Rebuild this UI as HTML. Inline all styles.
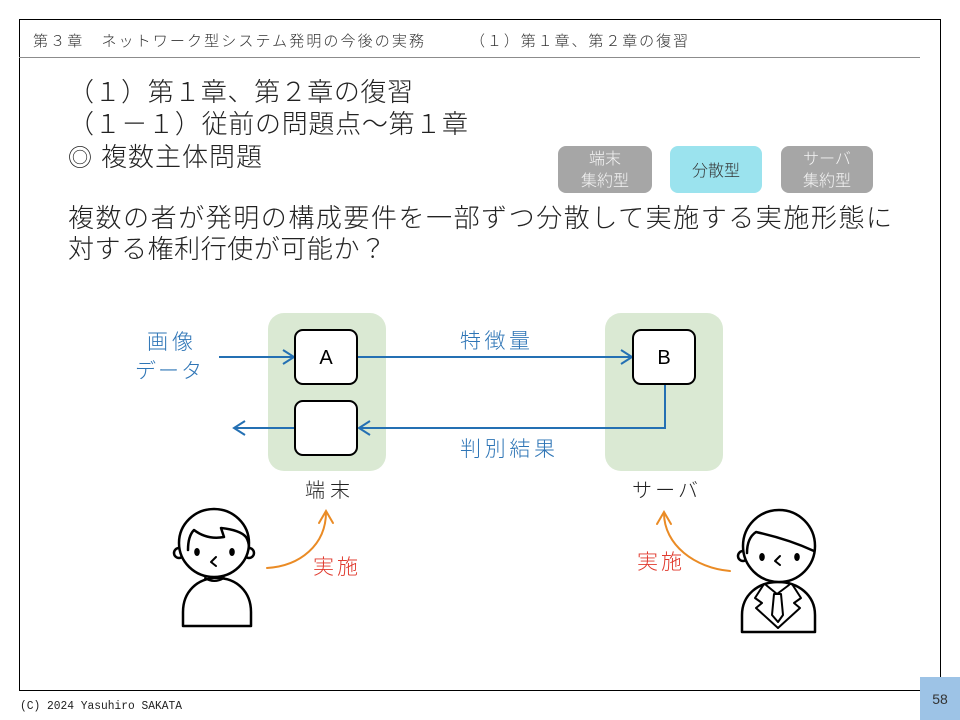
<!DOCTYPE html>
<html><head><meta charset="utf-8"><style>
html,body{margin:0;padding:0;background:#fff;}
svg{display:block;}
.jp{font-family:"Liberation Sans","Noto Sans CJK JP",sans-serif;font-weight:300;}
</style></head><body>
<svg width="960" height="720" viewBox="0 0 960 720" xmlns="http://www.w3.org/2000/svg" class="jp">
<rect x="0" y="0" width="960" height="720" fill="#fff"/>
<!-- frame -->
<rect x="19.5" y="19.5" width="921" height="671" fill="none" stroke="#000" stroke-width="1"/>
<line x1="19" y1="57.5" x2="920" y2="57.5" stroke="#8c8c8c" stroke-width="1"/>
<!-- header -->
<text x="33" y="46" font-size="15" fill="#333" textLength="391" lengthAdjust="spacing">第３章　ネットワーク型システム発明の今後の実務</text>
<text x="470" y="46" font-size="15" fill="#333" textLength="218" lengthAdjust="spacing">（１）第１章、第２章の復習</text>
<!-- title -->
<text x="68" y="101" font-size="26" fill="#222" textLength="345" lengthAdjust="spacing">（１）第１章、第２章の復習</text>
<text x="68" y="133" font-size="26" fill="#222" textLength="400" lengthAdjust="spacing">（１－１）従前の問題点～第１章</text>
<text x="68" y="166" font-size="24" fill="#222">◎</text>
<text x="101" y="166" font-size="26" fill="#222" textLength="161" lengthAdjust="spacing">複数主体問題</text>
<!-- badges -->
<rect x="558" y="146" width="94" height="47" rx="8" fill="#a6a6a6"/>
<rect x="670" y="146" width="92" height="47" rx="8" fill="#9be3ee"/>
<rect x="781" y="146" width="92" height="47" rx="8" fill="#a6a6a6"/>
<text x="605" y="164" font-size="16" fill="#f4f4f4" text-anchor="middle">端末</text>
<text x="605" y="186" font-size="16" fill="#f4f4f4" text-anchor="middle">集約型</text>
<text x="716" y="176" font-size="16" fill="#333" text-anchor="middle">分散型</text>
<text x="827" y="164" font-size="16" fill="#f4f4f4" text-anchor="middle">サーバ</text>
<text x="827" y="186" font-size="16" fill="#f4f4f4" text-anchor="middle">集約型</text>
<!-- body text -->
<text x="68" y="227" font-size="26" fill="#222" textLength="824" lengthAdjust="spacing">複数の者が発明の構成要件を一部ずつ分散して実施する実施形態に</text>
<text x="68" y="258" font-size="26" fill="#222" textLength="318" lengthAdjust="spacing">対する権利行使が可能か？</text>
<!-- green containers -->
<rect x="268" y="313" width="118" height="158" rx="16" fill="#dae9d3"/>
<rect x="605" y="313" width="118" height="158" rx="16" fill="#dae9d3"/>
<!-- connectors -->
<g stroke="#2470b3" stroke-width="2" fill="none">
<line x1="219" y1="357" x2="294" y2="357"/>
<polyline points="283,350 294,357 283,364"/>
<line x1="357" y1="357" x2="632" y2="357"/>
<polyline points="621,350 632,357 621,364"/>
<polyline points="665,384 665,428 359,428"/>
<polyline points="370,421 359,428 370,435"/>
<line x1="295" y1="428" x2="234" y2="428"/>
<polyline points="245,421 234,428 245,435"/>
</g>
<!-- nodes -->
<rect x="295" y="330" width="62" height="54" rx="8" fill="#fff" stroke="#000" stroke-width="2"/>
<rect x="295" y="401" width="62" height="54" rx="8" fill="#fff" stroke="#000" stroke-width="2"/>
<rect x="633" y="330" width="62" height="54" rx="8" fill="#fff" stroke="#000" stroke-width="2"/>
<text x="326" y="364" font-size="20" fill="#000" text-anchor="middle" font-family="Liberation Sans, sans-serif" font-weight="400">A</text>
<text x="664" y="364" font-size="20" fill="#000" text-anchor="middle" font-family="Liberation Sans, sans-serif" font-weight="400">B</text>
<!-- labels -->
<text x="147" y="349" font-size="21" fill="#2e75b6" textLength="46" lengthAdjust="spacing">画像</text>
<text x="135" y="378" font-size="21" fill="#2e75b6" textLength="67" lengthAdjust="spacing">データ</text>
<text x="460" y="348" font-size="21" fill="#2e75b6" textLength="70" lengthAdjust="spacing">特徴量</text>
<text x="460" y="456" font-size="21" fill="#2e75b6" textLength="95" lengthAdjust="spacing">判別結果</text>
<text x="305" y="497" font-size="20" fill="#222" textLength="45" lengthAdjust="spacing">端末</text>
<text x="632" y="497" font-size="20" fill="#222" textLength="66" lengthAdjust="spacing">サーバ</text>
<!-- orange arrows -->
<g stroke="#ea8b25" stroke-width="2" fill="none" stroke-linecap="round">
<path d="M267,568 C300,566 326,545 326,512"/>
<polyline points="319,523 326,511 333,523"/>
<path d="M730,571 C695,568 664,545 664,513"/>
<polyline points="657,524 664,512 671,524"/>
</g>
<text x="313" y="574" font-size="21" fill="#e03a2e" textLength="45" lengthAdjust="spacing">実施</text>
<text x="637" y="569" font-size="21" fill="#e03a2e" textLength="45" lengthAdjust="spacing">実施</text>
<!-- left person -->
<g stroke="#000" stroke-width="2.5" fill="#fff" stroke-linejoin="round" stroke-linecap="round">
<path d="M183,626 L183,612 C183,592 197,578 217,578 C237,578 251,592 251,612 L251,626 Z"/>
<circle cx="179" cy="553" r="5"/>
<circle cx="249" cy="553" r="5"/>
<ellipse cx="214" cy="543" rx="35" ry="34"/>
<path d="M188,550 Q188,536 194,530 Q207,540 224,537 L221,528 Q240,530 246,537 Q249,542 249,548" fill="none"/>
<path d="M216,557 L211,562 L216,566" fill="none" stroke-width="2"/>
<path d="M205,578 Q214,584 224,578" fill="none" stroke-width="2"/>
</g>
<ellipse cx="197" cy="552" rx="2.8" ry="4" fill="#000"/>
<ellipse cx="232" cy="552" rx="2.8" ry="4" fill="#000"/>
<!-- right person -->
<g stroke="#000" stroke-width="2.5" fill="#fff" stroke-linejoin="round" stroke-linecap="round">
<path d="M742,632 L742,615 C742,595 758,582 778,582 C798,582 815,595 815,615 L815,632 Z"/>
<path d="M764,584 L755,598 L762,603 L756,608 L778,628" fill="none" stroke-width="2"/>
<path d="M792,584 L801,598 L794,603 L800,608 L778,628" fill="none" stroke-width="2"/>
<path d="M766,585 L777,594 L789,585" fill="none" stroke-width="2"/>
<path d="M774,594 L781,594 L783,615 L778,622 L772,615 Z" fill="none" stroke-width="2"/>
<circle cx="743" cy="556" r="5"/>
<ellipse cx="779" cy="546" rx="36" ry="36"/>
<path d="M747,553 Q747,538 756,532 Q788,539 814,551" fill="none"/>
<path d="M780,556 L775,561 L780,565" fill="none" stroke-width="2"/>
</g>
<ellipse cx="762" cy="557" rx="2.8" ry="4" fill="#000"/>
<ellipse cx="797" cy="557" rx="2.8" ry="4" fill="#000"/>
<!-- footer -->
<text x="20" y="709" font-size="11.5" fill="#222" font-family="Liberation Mono, monospace" font-weight="400" textLength="162" lengthAdjust="spacingAndGlyphs">(C) 2024 Yasuhiro SAKATA</text>
<rect x="920" y="677" width="40" height="43" fill="#9dc3e6"/>
<text x="940" y="704" font-size="14" fill="#333" text-anchor="middle" font-family="Liberation Sans, sans-serif" font-weight="400">58</text>
</svg>
</body></html>
